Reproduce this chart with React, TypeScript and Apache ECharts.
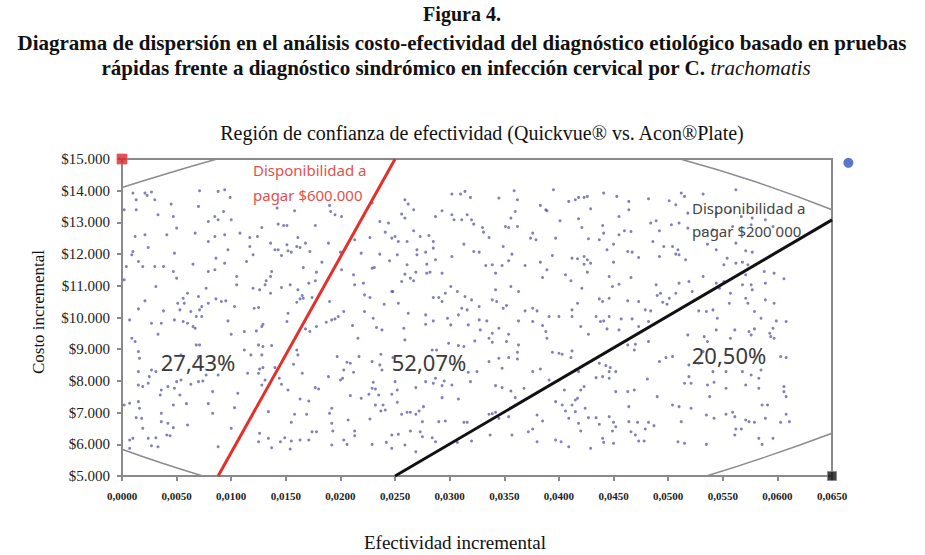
import React, { useEffect, useRef } from "react";
import * as echarts from "echarts";

// Simulated (incremental effectiveness, incremental cost) pairs, read off the picture by vertical band
const simBand1 = [
  [0.0010,13925],[0.0013,13714],[0.0021,13925],[0.0027,13957],[0.0023,13851],[0.0030,13714],[0.0071,13999],[0.0088,13978],[0.0094,14030],[0.0099,13788],
  [0.0002,13399],[0.0013,13399],[0.0033,13241],[0.0045,13578],[0.0070,13504],[0.0047,13188],[0.0050,12820],[0.0079,13030],[0.0085,13188],[0.0088,13083],[0.0093,13346],[0.0100,13083],
  [0.0012,12557],[0.0021,12609],[0.0041,12609],[0.0067,12662],[0.0079,12399],[0.0085,12557],[0.0094,12609],[0.0108,12662],[0.0117,12525],
  [0.0009,11978],[0.0024,12209],[0.0048,12030],[0.0010,12083],[0.0086,11872],[0.0097,12135],[0.0117,12241],[0.0114,11767],[0.0120,11978],
  [0.0015,11767],[0.0019,11609],[0.0030,11609],[0.0038,11609],[0.0065,11683],[0.0094,11714],[0.0079,11451],[0.0085,11504],[0.0047,11451],[0.0004,11609],
  [0.0002,11188],[0.0050,11241],[0.0105,11293],[0.0105,11030],[0.0077,10925],[0.0031,10977],[0.0060,10767],[0.0056,10609],[0.0120,10925],
  [0.0021,10525],[0.0051,10451],[0.0057,10451],[0.0070,10662],[0.0079,10451],[0.0086,10588],[0.0091,10504],[0.0095,10525],[0.0103,10346],[0.0015,10272],[0.0038,10209],[0.0053,10241],[0.0063,10188],[0.0071,10241],[0.0073,10346],
  [0.0068,10030],[0.0007,9925],[0.0027,9820],[0.0036,9820],[0.0048,9925],[0.0056,9872],[0.0060,9820],[0.0065,9714],[0.0073,10030],[0.0097,9893],[0.0121,10293],
  [0.0033,9472],[0.0067,9662],[0.0112,9557],[0.0100,9472],[0.0009,9346],[0.0012,9241],[0.0068,9135],[0.0071,9135],
  [0.0015,8925],[0.0016,8714],[0.0070,8767],[0.0054,8820],[0.0112,8977],[0.0118,8820],
  [0.0027,8346],[0.0031,8293],[0.0015,8293],[0.0025,8135],[0.0024,7925],[0.0054,8030],[0.0050,7977],[0.0063,7893],[0.0070,7977],[0.0074,7998],[0.0077,8188],[0.0088,8188],[0.0115,8241],
  [0.0015,7872],[0.0019,7820],[0.0036,7714],[0.0042,7820],[0.0048,7767],[0.0035,7556],[0.0053,7556],[0.0083,7662],[0.0106,7609],
  [0.0002,7240],[0.0007,7293],[0.0015,7346],[0.0047,7240],[0.0059,7283],[0.0079,7283],[0.0103,7156],[0.0083,6977],[0.0016,7135],[0.0036,6977],
  [0.0013,6840],[0.0018,6819],[0.0036,6714],[0.0042,6661],[0.0047,6525],[0.0060,6609],[0.0019,6503],[0.0100,6503],
  [0.0007,6135],[0.0010,6188],[0.0024,6188],[0.0031,6209],[0.0041,6293],[0.0044,6272],[0.0027,5956],[0.0033,5925],[0.0007,5872],[0.0088,5925],
];

const simBand2 = [
  [0.0142,13451],[0.0158,13367],[0.0190,13536],[0.0191,13346],[0.0195,13241],[0.0201,13188],[0.0229,13609],[0.0236,13030],[0.0244,12978],
  [0.0128,12841],[0.0143,12946],[0.0148,12904],[0.0151,12904],[0.0177,12904],[0.0124,12557],[0.0136,12346],[0.0140,12135],[0.0143,12135],
  [0.0151,12293],[0.0152,12104],[0.0155,12062],[0.0160,12241],[0.0163,12209],[0.0168,12346],[0.0172,12083],[0.0161,12525],[0.0146,11957],
  [0.0189,12346],[0.0213,12451],[0.0227,12525],[0.0241,12693],[0.0247,12504],[0.0219,12030],[0.0236,11999],[0.0183,11746],[0.0200,12062],
  [0.0201,11504],[0.0229,11557],[0.0231,11578],[0.0245,11788],[0.0137,11451],[0.0136,11293],[0.0132,11157],[0.0131,11030],[0.0126,10872],
  [0.0136,10767],[0.0154,11030],[0.0146,10946],[0.0166,11578],[0.0178,11430],[0.0171,11083],[0.0177,11157],[0.0212,11346],[0.0213,11030],
  [0.0221,11083],[0.0222,10714],[0.0227,10630],[0.0240,10420],[0.0248,10820],[0.0125,10314],[0.0161,10872],[0.0165,10693],[0.0163,10588],
  [0.0160,10483],[0.0166,10609],[0.0174,10630],[0.0190,10504],[0.0203,10188],[0.0198,10030],[0.0195,9956],[0.0192,9925],[0.0187,9851],
  [0.0178,9714],[0.0168,9641],[0.0172,9557],[0.0222,10188],[0.0230,9977],[0.0233,9683],[0.0238,9609],[0.0211,9746],[0.0216,9346],
  [0.0123,9577],[0.0128,9714],[0.0129,9788],[0.0152,10135],[0.0151,9872],[0.0125,9135],[0.0129,9083],[0.0137,9114],[0.0128,8820],
  [0.0126,8377],[0.0129,8420],[0.0125,8241],[0.0140,8420],[0.0144,8083],[0.0146,7893],[0.0160,8977],[0.0161,8820],[0.0157,8525],[0.0165,8241],
  [0.0197,8767],[0.0206,8588],[0.0209,8556],[0.0217,8767],[0.0203,8346],[0.0212,8272],[0.0189,8135],[0.0200,8030],[0.0202,8083],
  [0.0229,8609],[0.0236,8504],[0.0238,8346],[0.0237,8840],[0.0248,8735],[0.0128,7872],[0.0131,8030],[0.0152,7714],[0.0177,7788],[0.0180,7746],
  [0.0230,7956],[0.0229,7767],[0.0232,7746],[0.0226,7577],[0.0235,7556],[0.0247,7577],[0.0163,7430],[0.0171,7367],[0.0209,7535],[0.0219,7451],
  [0.0239,7240],[0.0241,7083],[0.0237,7051],[0.0232,7240],[0.0192,7135],[0.0190,6977],[0.0134,7030],[0.0155,6693],[0.0158,6946],[0.0169,6946],
  [0.0192,6661],[0.0193,6419],[0.0207,6767],[0.0213,6419],[0.0227,6798],[0.0126,6346],[0.0174,6398],[0.0178,6398],[0.0134,6188],[0.0149,6209],
  [0.0155,6103],[0.0163,6135],[0.0171,6135],[0.0213,6272],[0.0203,6135],[0.0125,6082],[0.0145,6082],[0.0137,5893],[0.0154,5851],[0.0206,5998],
  [0.0229,5998],[0.0242,6061],[0.0192,5977],[0.0247,6293],
];

const simBand3 = [
  [0.0302,13893],[0.0310,13893],[0.0314,13978],[0.0319,13788],[0.0345,13767],[0.0359,13999],[0.0362,13714],[0.0259,13714],[0.0262,13578],
  [0.0267,13399],[0.0256,13262],[0.0259,13136],[0.0287,13188],[0.0293,13367],[0.0302,13241],[0.0304,13083],[0.0311,13083],[0.0316,13241],
  [0.0320,13083],[0.0322,12946],[0.0330,12841],[0.0331,12693],[0.0336,12525],[0.0351,12872],[0.0354,12841],[0.0362,12872],[0.0356,13136],
  [0.0360,13346],[0.0250,12557],[0.0253,12399],[0.0261,12399],[0.0267,12736],[0.0273,12557],[0.0281,12588],[0.0285,12399],[0.0270,12135],
  [0.0270,11978],[0.0278,12062],[0.0285,12188],[0.0252,11978],[0.0302,11925],[0.0313,12314],[0.0322,12083],[0.0327,12062],[0.0349,12241],
  [0.0357,11999],[0.0354,11788],[0.0333,11641],[0.0339,11662],[0.0342,11399],[0.0348,11641],[0.0369,11641],[0.0279,11683],[0.0287,11820],
  [0.0261,11662],[0.0259,11367],[0.0264,11241],[0.0269,11430],[0.0279,11399],[0.0282,11430],[0.0293,11399],[0.0256,11136],[0.0267,11157],
  [0.0247,10820],[0.0285,10630],[0.0290,10630],[0.0296,10767],[0.0293,10504],[0.0301,10977],[0.0307,10820],[0.0314,10662],[0.0320,10556],
  [0.0327,10346],[0.0311,10293],[0.0316,10241],[0.0339,10556],[0.0343,10504],[0.0349,10293],[0.0352,10377],[0.0363,10820],[0.0356,10977],
  [0.0342,10872],[0.0253,10451],[0.0262,10135],[0.0278,10083],[0.0285,9893],[0.0278,9788],[0.0298,9977],[0.0301,9767],[0.0308,10083],
  [0.0317,9767],[0.0327,9925],[0.0334,9893],[0.0328,9609],[0.0345,9662],[0.0339,9504],[0.0354,9472],[0.0363,9893],[0.0369,10209],
  [0.0258,9662],[0.0259,9293],[0.0284,8977],[0.0288,8977],[0.0299,9188],[0.0308,9114],[0.0313,9083],[0.0323,9262],[0.0336,9346],
  [0.0339,9220],[0.0352,9241],[0.0363,9135],[0.0362,8904],[0.0354,8735],[0.0345,8714],[0.0336,8609],[0.0362,8693],[0.0348,8398],
  [0.0250,7977],[0.0252,7714],[0.0252,7325],[0.0269,7788],[0.0278,7977],[0.0285,7925],[0.0287,8083],[0.0293,7851],[0.0295,7998],
  [0.0302,7872],[0.0293,7472],[0.0308,7430],[0.0317,8272],[0.0325,8293],[0.0319,7977],[0.0342,7851],[0.0348,7788],[0.0356,7683],
  [0.0360,7472],[0.0368,7767],[0.0256,6946],[0.0261,7009],[0.0264,7009],[0.0269,6946],[0.0272,7051],[0.0275,6714],[0.0276,7188],
  [0.0290,6714],[0.0296,6735],[0.0313,6693],[0.0316,6693],[0.0336,6946],[0.0339,6967],[0.0342,7009],[0.0345,6819],[0.0354,6872],
  [0.0273,6398],[0.0275,6240],[0.0264,6419],[0.0253,6314],[0.0284,6209],[0.0287,6082],[0.0307,6061],[0.0320,6103],[0.0337,6293],
  [0.0357,6293],[0.0372,6398],[0.0247,5872],[0.0269,5767],[0.0259,5977],
];

const simBand4 = [
  [0.0395,14030],[0.0415,13714],[0.0418,13788],[0.0423,13788],[0.0426,13820],[0.0409,13662],[0.0441,13925],[0.0453,13820],[0.0464,13662],
  [0.0482,13746],[0.0383,13536],[0.0388,13399],[0.0389,13367],[0.0429,13430],[0.0401,13051],[0.0418,13115],[0.0421,12841],[0.0440,12904],
  [0.0455,13188],[0.0464,13399],[0.0484,12978],[0.0489,13051],[0.0492,12736],[0.0376,12662],[0.0374,12504],[0.0379,12451],[0.0397,12504],
  [0.0427,12483],[0.0437,12451],[0.0441,12662],[0.0455,12609],[0.0460,12736],[0.0466,12715],[0.0486,12399],[0.0444,12135],[0.0450,12314],
  [0.0463,12083],[0.0467,12062],[0.0496,12241],[0.0394,11957],[0.0412,11872],[0.0417,11851],[0.0423,11925],[0.0426,11820],[0.0423,11683],
  [0.0429,11714],[0.0383,11746],[0.0450,11746],[0.0473,11893],[0.0492,11925],[0.0389,11504],[0.0406,11346],[0.0411,11157],[0.0426,11430],
  [0.0385,11262],[0.0446,11293],[0.0455,11051],[0.0449,10977],[0.0466,11262],[0.0489,11030],[0.0421,10925],[0.0493,10767],[0.0490,10693],
  [0.0376,10293],[0.0380,10209],[0.0417,10451],[0.0412,10241],[0.0437,10588],[0.0440,10504],[0.0446,10609],[0.0463,10525],[0.0473,10504],
  [0.0479,10241],[0.0484,10209],[0.0495,10483],[0.0376,9872],[0.0385,9746],[0.0391,10030],[0.0400,10030],[0.0412,10030],[0.0420,9714],
  [0.0434,10030],[0.0438,9872],[0.0446,10030],[0.0444,9641],[0.0441,9893],[0.0457,9956],[0.0467,9956],[0.0473,9714],[0.0482,9872],
  [0.0499,10420],[0.0388,9557],[0.0389,9346],[0.0427,9472],[0.0455,9609],[0.0463,9135],[0.0469,8977],[0.0470,9157],[0.0482,9241],
  [0.0394,8904],[0.0400,8872],[0.0403,8840],[0.0411,8735],[0.0412,8946],[0.0437,8556],[0.0443,8483],[0.0447,8420],[0.0452,8293],
  [0.0446,8293],[0.0418,8293],[0.0415,8346],[0.0376,8293],[0.0383,8377],[0.0391,8030],[0.0423,7820],[0.0420,7714],[0.0481,8062],
  [0.0490,7504],[0.0492,8609],[0.0498,8735],[0.0405,7714],[0.0417,7451],[0.0397,7346],[0.0403,7240],[0.0412,7240],[0.0406,7051],
  [0.0415,7398],[0.0424,7135],[0.0452,7662],[0.0463,7662],[0.0469,7714],[0.0464,7188],[0.0446,8083],[0.0440,8135],[0.0434,8103],
  [0.0415,7030],[0.0409,6819],[0.0380,6925],[0.0385,6735],[0.0376,6482],[0.0418,6661],[0.0427,6840],[0.0434,6840],[0.0437,6630],
  [0.0446,6872],[0.0450,6693],[0.0452,6556],[0.0464,6714],[0.0472,6693],[0.0479,6482],[0.0482,6693],[0.0487,6588],[0.0420,6419],
  [0.0449,6419],[0.0466,6398],[0.0470,6293],[0.0473,6103],[0.0478,6103],[0.0397,6135],[0.0402,6082],[0.0380,6082],[0.0409,5925],
  [0.0429,5872],[0.0440,6188],[0.0441,6061],[0.0450,6030],
];

const simBand5 = [
  [0.0512,13925],[0.0515,13820],[0.0532,13893],[0.0562,14030],[0.0501,13683],[0.0507,13557],[0.0518,13293],[0.0544,13262],[0.0557,13346],
  [0.0567,13188],[0.0577,13136],[0.0589,13083],[0.0503,12925],[0.0510,12978],[0.0518,12820],[0.0532,12736],[0.0541,12767],[0.0559,12872],
  [0.0576,12925],[0.0596,12872],[0.0504,12241],[0.0507,11999],[0.0510,11978],[0.0509,12135],[0.0536,12314],[0.0562,12346],[0.0571,12104],
  [0.0577,12062],[0.0544,12135],[0.0554,11872],[0.0562,11714],[0.0573,11662],[0.0551,11662],[0.0568,11746],[0.0516,11820],[0.0588,11451],
  [0.0597,11399],[0.0589,11083],[0.0576,11030],[0.0606,11220],[0.0568,11030],[0.0571,11346],[0.0532,11293],[0.0519,11136],[0.0544,11083],
  [0.0547,10925],[0.0551,11136],[0.0510,11083],[0.0501,10609],[0.0507,10767],[0.0522,10820],[0.0528,10209],[0.0535,10188],[0.0541,10241],
  [0.0556,10451],[0.0571,10609],[0.0573,10451],[0.0577,10872],[0.0579,10188],[0.0557,10767],[0.0589,10556],[0.0597,10451],[0.0585,9977],
  [0.0599,9893],[0.0596,9662],[0.0608,9872],[0.0574,9557],[0.0579,9641],[0.0593,9504],[0.0594,9398],[0.0597,9346],[0.0576,9451],
  [0.0545,9977],[0.0544,9609],[0.0533,9398],[0.0561,9609],[0.0557,9346],[0.0536,9241],[0.0518,9451],[0.0532,8925],[0.0504,8767],
  [0.0603,8767],[0.0608,8735],[0.0519,8504],[0.0528,8556],[0.0519,8135],[0.0541,8293],[0.0553,8293],[0.0568,8293],[0.0576,8188],
  [0.0585,8346],[0.0583,8083],[0.0515,7925],[0.0521,7925],[0.0536,7872],[0.0542,7956],[0.0553,7767],[0.0571,7872],[0.0583,7767],
  [0.0606,7820],[0.0606,7661],[0.0608,7504],[0.0538,7504],[0.0504,7240],[0.0510,7188],[0.0521,7135],[0.0586,7240],[0.0591,7240],
  [0.0535,6925],[0.0542,6819],[0.0553,6946],[0.0559,7009],[0.0561,6872],[0.0571,6767],[0.0574,6714],[0.0579,6693],[0.0589,6819],
  [0.0603,6693],[0.0608,6946],[0.0611,6714],[0.0562,6482],[0.0567,6482],[0.0561,6293],[0.0583,6188],[0.0596,6188],[0.0586,5998],
  [0.0509,6082],[0.0515,6030],[0.0535,5998],[0.0512,6714],
];

// Confidence-region ellipse arcs visible inside the plot
const arcTopLeft = [[0, 14100], [0.0043, 14560], [0.0087, 15000]];
const arcTopRight = [[0.0511, 15000], [0.058, 14280], [0.065, 13400]];
const arcBottomLeft = [[0, 5843], [0.0037, 5400], [0.0074, 5000]];
const arcBottomRight = [[0.0535, 5000], [0.059, 5610], [0.065, 6350]];

// Willingness-to-pay thresholds
const wtp600Line = [[0.0088, 5000], [0.025, 15000]];
const wtp200Line = [[0.025, 5000], [0.065, 13080]];

// Corner markers
const redMarker = [[0, 15000]];
const blueMarker = [[0.0665, 14880]];
const blackMarker = [[0.065, 5000]];

const regionShares = ["27,43%", "52,07%", "20,50%"];

const xMin = 0, xMax = 0.065, xStep = 0.005;
const yMin = 5000, yMax = 15000, yStep = 1000;

export default function App() {
  const ref = useRef<HTMLDivElement>(null);
  useEffect(() => {
    const chart = echarts.init(ref.current as HTMLDivElement, null, { renderer: "svg" });
    const serif = '"Liberation Serif", "DejaVu Serif", serif';
    const sans = '"Noto Sans", "Open Sans", sans-serif';
    const axisGray = "#8a8a8a";
    const arcStyle = { color: "#8c8c8c", width: 1.5 };
    const arc = (d: number[][]) => ({
      type: "line", data: d, smooth: true, showSymbol: false, symbol: "none",
      lineStyle: arcStyle, z: 3, silent: true,
    });
    const dots = [...simBand1, ...simBand2, ...simBand3, ...simBand4, ...simBand5];
    const txt = (text: string, x: number, y: number, font: any, extra: any = {}) => ({
      type: "text", x, y, ...extra,
      style: { text, align: "center", verticalAlign: "middle", textAlign: "center", textVerticalAlign: "middle", ...font },
    });
    chart.setOption({
      animation: false,
      backgroundColor: "#ffffff",
      grid: { left: 122, right: 93, top: 159, bottom: 79, show: true, borderColor: axisGray, borderWidth: 2 },
      xAxis: {
        type: "value", min: xMin, max: xMax, interval: xStep,
        splitLine: { show: false },
        axisLine: { show: true, lineStyle: { color: axisGray, width: 2 } },
        axisTick: { show: true, length: 5, lineStyle: { color: axisGray, width: 2 } },
        axisLabel: {
          formatter: (v: number) => v.toFixed(4).replace(".", ","),
          fontFamily: serif, fontWeight: "bold", fontSize: 11, color: "#222", margin: 14,
        },
      },
      yAxis: {
        type: "value", min: yMin, max: yMax, interval: yStep,
        splitLine: { show: false },
        axisLine: { show: true, lineStyle: { color: axisGray, width: 2 } },
        axisTick: { show: true, length: 5, lineStyle: { color: axisGray, width: 2 } },
        axisLabel: {
          formatter: (v: number) => "$" + Math.round(v).toString().replace(/\B(?=(\d{3})+(?!\d))/g, "."),
          fontFamily: serif, fontSize: 15, color: "#222", margin: 12,
        },
      },
      series: [
        {
          type: "scatter", data: dots, symbolSize: 3, silent: true, z: 2,
          itemStyle: { color: "rgba(70,70,150,0.85)" },
        },
        arc(arcTopLeft), arc(arcTopRight), arc(arcBottomLeft), arc(arcBottomRight),
        {
          type: "line", data: wtp600Line, showSymbol: false, symbol: "none", z: 4, silent: true,
          lineStyle: { color: "#e2302a", width: 3 },
        },
        {
          type: "line", data: wtp200Line, showSymbol: false, symbol: "none", z: 4, silent: true,
          lineStyle: { color: "#111111", width: 3 },
        },
        {
          type: "scatter", data: redMarker, symbol: "rect", symbolSize: 10, clip: false, z: 5,
          itemStyle: { color: "#d8262a", borderColor: "#e86060", borderWidth: 1 },
        },
        {
          type: "scatter", data: blueMarker, symbol: "circle", symbolSize: 10, clip: false, z: 5,
          itemStyle: { color: "#2f55c0" },
        },
        {
          type: "scatter", data: blackMarker, symbol: "rect", symbolSize: 9, clip: false, z: 5,
          itemStyle: { color: "#111111", borderColor: "#888", borderWidth: 1 },
        },
      ],
      graphic: [
        txt("Figura 4.", 462, 14, { fontFamily: serif, fontWeight: "bold", fontSize: 20, fill: "#111" }),
        txt("Diagrama de dispersión en el análisis costo-efectividad del diagnóstico etiológico basado en pruebas", 462, 43,
          { fontFamily: serif, fontWeight: "bold", fontSize: 21, fill: "#111" }),
        txt("rápidas frente a diagnóstico sindrómico en infección cervical por C. {i|trachomatis}", 456, 68,
          { fontFamily: serif, fontWeight: "bold", fontSize: 21, fill: "#111",
            rich: { i: { fontFamily: serif, fontStyle: "italic", fontWeight: "normal", fontSize: 21, fill: "#111" } } }),
        txt("Región de confianza de efectividad (Quickvue® vs. Acon®Plate)", 482, 133,
          { fontFamily: serif, fontSize: 20, fill: "#111" }),
        txt("Costo incremental", 38, 312, { fontFamily: serif, fontSize: 17, fill: "#111" }, { rotation: Math.PI / 2 }),
        txt("Efectividad incremental", 455, 542, { fontFamily: serif, fontSize: 19, fill: "#111" }),
        txt(regionShares[0], 198, 362, { fontFamily: sans, fontSize: 22, fill: "#3a3a3a" }),
        txt(regionShares[1], 429, 362, { fontFamily: sans, fontSize: 22, fill: "#3a3a3a" }),
        txt(regionShares[2], 729, 355, { fontFamily: sans, fontSize: 22, fill: "#3a3a3a" }),
        {
          type: "text", x: 253, y: 170, z: 10,
          style: { text: "Disponibilidad a", align: "left", verticalAlign: "middle", textAlign: "left", textVerticalAlign: "middle", fontFamily: sans, fontSize: 15, fill: "#e4514c" },
        },
        {
          type: "text", x: 253, y: 195, z: 10,
          style: { text: "pagar $600.000", align: "left", verticalAlign: "middle", textAlign: "left", textVerticalAlign: "middle", fontFamily: sans, fontSize: 15, fill: "#e4514c" },
        },
        {
          type: "text", x: 692, y: 208, z: 10,
          style: { text: "Disponibilidad a", align: "left", verticalAlign: "middle", textAlign: "left", textVerticalAlign: "middle", fontFamily: sans, fontSize: 15, fill: "#444" },
        },
        {
          type: "text", x: 692, y: 231, z: 10,
          style: { text: "pagar $200 000", align: "left", verticalAlign: "middle", textAlign: "left", textVerticalAlign: "middle", fontFamily: sans, fontSize: 15, fill: "#444" },
        },
      ],
    });
    return () => chart.dispose();
  }, []);
  return (
    <div
      ref={ref}
      style={{ position: "absolute", left: 0, top: 0, width: 925, height: 555, background: "#fff" }}
    />
  );
}
